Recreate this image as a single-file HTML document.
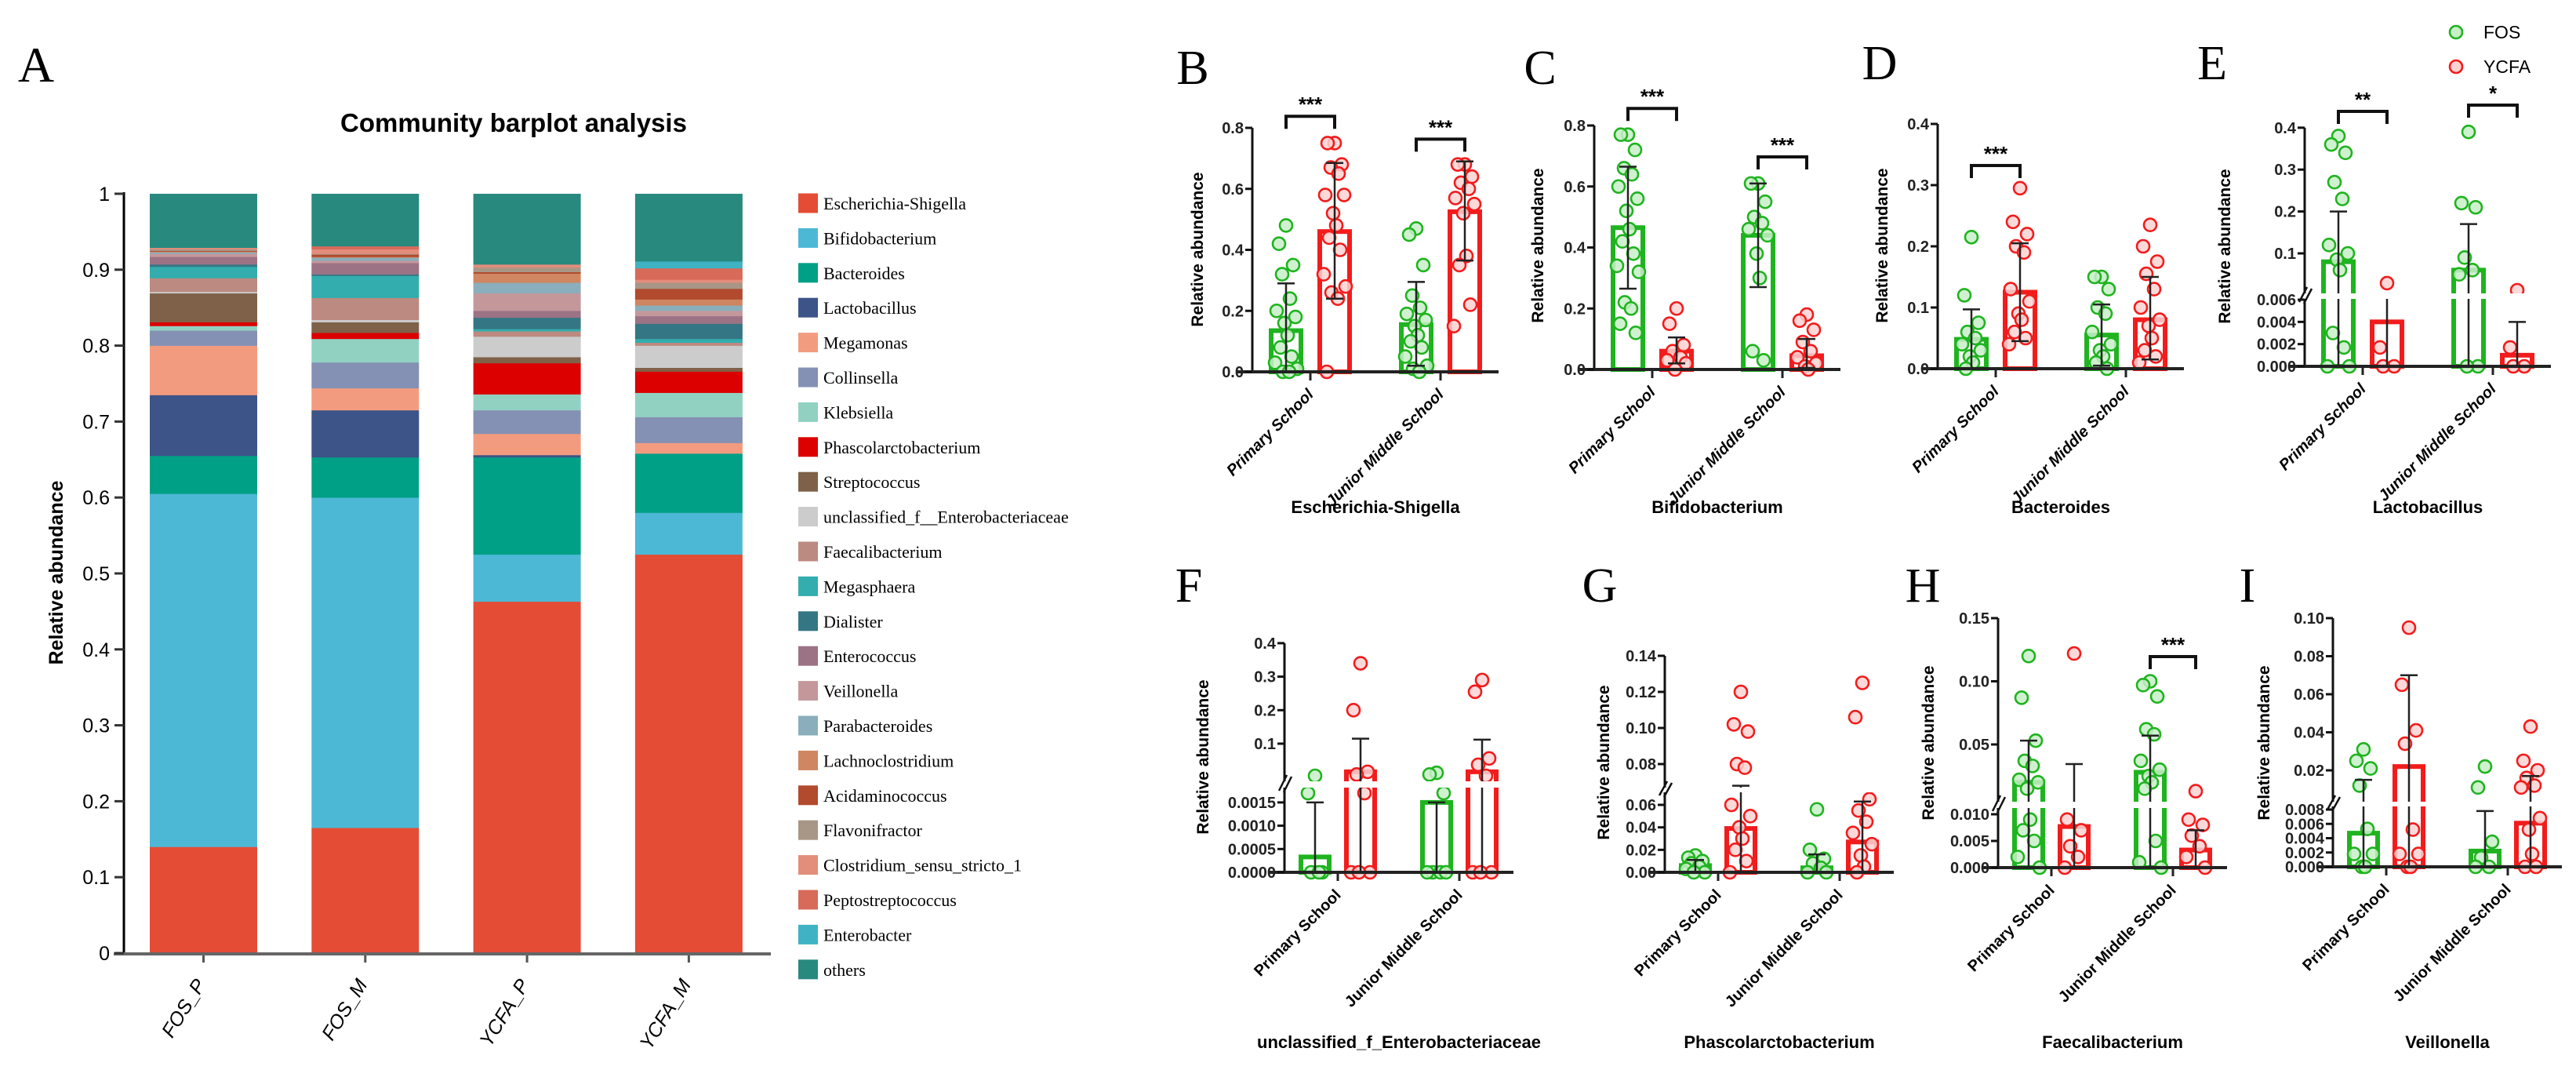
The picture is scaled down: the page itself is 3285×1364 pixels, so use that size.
<!DOCTYPE html>
<html><head><meta charset="utf-8"><style>
html,body{margin:0;padding:0;background:#fff;}
svg{display:block;}
text{font-family:"Liberation Sans",sans-serif;}
.serif{font-family:"Liberation Serif",serif;}
</style></head><body>
<svg id="fig" width="3285" height="1364" viewBox="0 0 3285 1364" xmlns="http://www.w3.org/2000/svg">
<rect x="0" y="0" width="3285" height="1364" fill="#fff"/>
</svg>
<script>
// ---------- Panel A data ----------
const A_GROUPS = ['FOS_P','FOS_M','YCFA_P','YCFA_M'];
const A_TAXA = ['Escherichia-Shigella','Bifidobacterium','Bacteroides','Lactobacillus','Megamonas','Collinsella','Klebsiella','Phascolarctobacterium','Streptococcus','unclassified_f__Enterobacteriaceae','Faecalibacterium','Megasphaera','Dialister','Enterococcus','Veillonella','Parabacteroides','Lachnoclostridium','Acidaminococcus','Flavonifractor','Clostridium_sensu_stricto_1','Peptostreptococcus','Enterobacter','others'];
const A_FOS_P  = [.14,.465,.05,.08,.065,.02,.006,.005,.038,.002,.018,.015,.003,.01,.004,.002,.001,.001,.002,.002,0,0,.071];
const A_FOS_M  = [.165,.435,.053,.062,.029,.034,.031,.008,.014,.003,.029,.029,.002,.015,.003,.004,.001,.003,.001,.006,.004,0,.069];
const A_YCFA_P = [.463,.062,.128,.003,.028,.031,.021,.041,.008,.027,.007,.003,.015,.009,.023,.014,.012,.002,.006,.004,0,0,.093];
const A_YCFA_M = [.525,.055,.078,0,.014,.034,.032,.028,.005,.029,.004,.005,.02,.01,.007,.007,.008,.014,.008,.004,.015,.009,.089];
const A_YTICKS = [0,.1,.2,.3,.4,.5,.6,.7,.8,.9,1];
const A_YTICK_LABELS = ['0','0.1','0.2','0.3','0.4','0.5','0.6','0.7','0.8','0.9','1'];
const A_COLORS = ['#e44c35','#4db8d5','#00a087','#3c5488','#f39b7f','#8491b4','#91d1c2','#dc0000','#7e6148','#cccccc','#bc8a80','#33adad','#357684','#9c7285','#c4979b','#8aaebb','#cf8661','#b24a2d','#a89687','#e38d7b','#d86a59','#3fb3c4','#28897f'];

// ---------- Small panels data ----------
const CATS = ['Primary School','Junior Middle School'];
const B_MEAN=[.135,.46,.155,.525], B_HI=[.29,.685,.295,.69], B_LO=[0,.24,.02,.365];
const B_PTS=[[.48,.42,.35,.32,.24,.2,.18,.16,.12,.08,.05,.03,.01,0,0],[.75,.75,.68,.67,.65,.58,.58,.52,.48,.44,.4,.32,.28,.26,.24,0],[.47,.45,.35,.25,.21,.19,.17,.15,.12,.1,.08,.05,.02,.01,0],[.68,.68,.64,.62,.6,.57,.55,.52,.38,.35,.22,.15]];
const B_SIG=[[0,.838,'***'],[1,.763,'***']];
const C_MEAN=[.465,.06,.44,.045], C_HI=[.665,.105,.61,.1], C_LO=[.265,.02,.27,.005];
const C_PTS=[[.77,.77,.72,.66,.64,.6,.56,.52,.46,.42,.38,.34,.32,.22,.2,.15,.12],[.2,.15,.08,.06,.04,.03,.02,0],[.61,.61,.55,.5,.48,.46,.44,.38,.3,.06,.03],[.18,.16,.13,.09,.06,.04,.02,.01,0]];
const C_SIG=[[0,.856,'***'],[1,.697,'***']];
const D_MEAN=[.048,.125,.055,.08], D_HI=[.097,.205,.105,.15], D_LO=[0,.045,.005,.015];
const D_PTS=[[.215,.12,.075,.06,.05,.04,.03,.02,.01,0],[.295,.24,.22,.2,.19,.13,.11,.09,.08,.06,.05,.04],[.15,.15,.13,.1,.09,.06,.04,.03,.02,.01,0],[.235,.2,.175,.155,.13,.1,.08,.07,.05,.03,.02,.01]];
const D_SIG=[[0,.332,'***']];
const E_MEAN=[.08,.004,.06,.001], E_HI=[.2,.0063,.17,.004], E_LO=[0,0,0,0];
const E_PTS=[[.38,.36,.34,.27,.23,.12,.1,.085,.06,.003,.0017,0,0],[.029,.0017,0,0],[.39,.22,.21,.09,.06,.05,0,0],[.012,.0017,0,0]];
const E_SIG=[[0,.439,'**'],[1,.454,'*']];
const F_MEAN=[.00033,.016,.0015,.016], F_HI=[.0015,.115,.0015,.112], F_LO=[0,0,0,0];
const F_PTS=[[.004,.0017,0,0,0],[.34,.2,.016,.008,.0017,0,0,0],[.013,.008,.0017,0,0,0,0],[.29,.255,.056,.037,.004,0,0,0]];
const F_SIG=[];
const G_MEAN=[.006,.039,.004,.027], G_HI=[.011,.068,.016,.063], G_LO=[0,0,0,0];
const G_PTS=[[.015,.013,.01,.008,.005,.003,0,0],[.12,.102,.098,.08,.078,.06,.05,.04,.03,.02,.01,0],[.056,.02,.012,.008,.004,0,0],[.125,.106,.065,.055,.045,.035,.025,.015,.005,0]];
const G_SIG=[];
const H_MEAN=[.02,.0077,.028,.0033], H_HI=[.053,.0345,.057,.007], H_LO=[0,0,0,0];
const H_PTS=[[.12,.087,.053,.037,.033,.022,.02,.015,.009,.007,.005,.002,0],[.122,.009,.007,.004,.002,0],[.1,.097,.088,.062,.058,.037,.03,.025,.02,.015,.005,.001,0],[.013,.009,.008,.006,.004,.002,0]];
const H_SIG=[[1,.1196,'***']];
const I_MEAN=[.0047,.022,.0022,.0061], I_HI=[.015,.07,.0078,.017], I_LO=[0,0,0,0];
const I_PTS=[[.031,.025,.021,.012,.0053,.0018,.0018,0,0],[.095,.065,.041,.034,.0052,.0018,.0018,0,0],[.022,.011,.0035,.0013,0,0],[.043,.025,.02,.016,.012,.011,.0068,.0052,.0018,0,0]];
const I_SIG=[];

const svg=document.getElementById('fig');
const NS='http://www.w3.org/2000/svg';
function el(tag,attrs,parent){const e=document.createElementNS(NS,tag);for(const k in attrs)e.setAttribute(k,attrs[k]);(parent||svg).appendChild(e);return e;}
function txt(str,attrs,parent){const t=el('text',attrs,parent);t.textContent=str;return t;}

// ================= Panel A =================
(function(){
  const g=el('g',{});
  
  
  const y0=1215, k=968, axX=158;
  const yA=v=>y0-v*k;
  const L=txt('A',{x:46,y:104,'font-size':64,'text-anchor':'middle',class:'serif'},g);
  
  
  const T=txt('Community barplot analysis',{x:655,y:168,'font-size':33,'font-weight':'bold','text-anchor':'middle'},g);
  
  
  const series=[A_FOS_P,A_FOS_M,A_YCFA_P,A_YCFA_M];
  series.forEach((vals,gi)=>{
    const x=191+gi*206.3; let cum=0;
    vals.forEach((v,ti)=>{
      if(v<=0)return;
      const r=el('rect',{x:x,y:yA(cum+v),width:137,height:v*k+0.3,fill:A_COLORS[ti]},g);
      
      
      cum+=v;
    });
    const tk=el('line',{x1:x+68.5,y1:y0,x2:x+68.5,y2:y0+12,stroke:'#555','stroke-width':3},g);
    
    
    const lb=txt(A_GROUPS[gi],{x:x+72,y:y0+40,'font-size':25,'font-style':'italic','text-anchor':'end',transform:`rotate(-58 ${x+72} ${y0+40})`},g);
    
    
  });
  const ya=el('line',{x1:axX,y1:yA(1)-2,x2:axX,y2:y0,stroke:'#000','stroke-width':3},g);
  
  
  const xa=el('line',{x1:145,y1:y0+1,x2:983,y2:y0+1,stroke:'#666','stroke-width':4},g);
  
  
  A_YTICKS.forEach((v,i)=>{
    const t=el('line',{x1:axX-12,y1:yA(v),x2:axX,y2:yA(v),stroke:'#333','stroke-width':3},g);
    
    
    const l=txt(A_YTICK_LABELS[i],{x:axX-18,y:yA(v)+9,'font-size':25,'text-anchor':'end'},g);
    
    
  });
  const yt=txt('Relative abundance',{x:80,y:730,'font-size':25,'font-weight':'bold','text-anchor':'middle',transform:'rotate(-90 80 730)'},g);
  
  
  A_TAXA.forEach((name,i)=>{
    const cy=259+i*44.4;
    const sw=el('rect',{x:1018,y:cy-12.5,width:25,height:25,fill:A_COLORS[i]},g);
    
    
    const lt=txt(name,{x:1050,y:cy+8,'font-size':22,class:'serif'},g);
    
    
  });
})();

// ================= Small panels =================
const GREEN='#1fb41f', RED='#f21c1c', GFILL='#c8efc8', RFILL='#fcd2d2';
const JIT=[0,-9,9,-5,5,-12,12,-2,2,-7,7,-14,14,-4,4,-10,10];
function drawPanel(c){
  const g=el('g',{});
  
  
  const yOf=v=>{ if(!c.up||v<=c.lmax) return c.y0-v*c.k; return c.up.y-(v-c.up.v)*c.up.k; };
  const top=c.row===0;
  const first=top?43:39, gGap=top?166:155, sGap=top?62:58, bw=top?38:36, axLen=top?314:292;
  const cx=(gi,si)=>c.ax+first+gi*gGap+si*sGap;
  c.mean.forEach((v,i)=>{
    const gi=Math.floor(i/2), si=i%2, col=si?RED:GREEN;
    const x=cx(gi,si), yv=yOf(v);
    const r=el('rect',{x:x-bw/2,y:yv,width:bw,height:Math.max(c.y0-yv,1),fill:'#fff',stroke:col,'stroke-width':6},g);
    
    
  });
  c.pts.forEach((arr,i)=>{
    const gi=Math.floor(i/2), si=i%2;
    arr.forEach((v,j)=>{
      const p=el('circle',{cx:cx(gi,si)+JIT[j%JIT.length],cy:yOf(v),r:8,fill:si?RFILL:GFILL,stroke:si?RED:GREEN,'stroke-width':2.6,'fill-opacity':0.85},g);
      
      
    });
  });
  c.hi.forEach((v,i)=>{
    const gi=Math.floor(i/2), si=i%2, x=cx(gi,si);
    const lo=c.lo[i];
    const e=el('path',{d:`M${x},${yOf(lo)}V${yOf(v)}M${x-11},${yOf(v)}H${x+11}`+(lo>0?`M${x-11},${yOf(lo)}H${x+11}`:''),stroke:'#222','stroke-width':2.5,fill:'none'},g);
    
    
  });
  if(c.up){
    const gp=el('rect',{x:c.ax-14,y:c.gap[0],width:axLen+14,height:c.gap[1]-c.gap[0],fill:'#fff'},g);
    
    
  }
  const yTop=yOf(c.ticks[c.ticks.length-1]);
  const ya=el('path',{d:c.up?`M${c.ax},${yTop}V${c.gap[0]}M${c.ax},${c.gap[1]}V${c.y0}`:`M${c.ax},${yTop}V${c.y0}`,stroke:'#111','stroke-width':3,fill:'none'},g);
  
  
  if(c.up){
    const bm=el('path',{d:`M${c.ax-7},${c.gap[1]+4}L${c.ax+3},${c.gap[0]-8}M${c.ax-1},${c.gap[1]+6}L${c.ax+9},${c.gap[0]-6}`,stroke:'#111','stroke-width':2.5,fill:'none'},g);
    
    
  }
  const xa=el('line',{x1:c.ax-20,y1:c.y0,x2:c.ax+axLen,y2:c.y0,stroke:'#222','stroke-width':4},g);
  
  
  c.ticks.forEach((v,i)=>{
    const y=yOf(v);
    const t=el('line',{x1:c.ax-9,y1:y,x2:c.ax,y2:y,stroke:'#111','stroke-width':3},g);
    
    
    const l=txt(c.labels[i],{x:c.ax-11,y:y+7,'font-size':20,'font-weight':'bold','text-anchor':'end',fill:'#222'},g);
    
    
  });
  [0,1].forEach(gi=>{
    const tx=(cx(gi,0)+cx(gi,1))/2;
    const t=el('line',{x1:tx,y1:c.y0,x2:tx,y2:c.y0+11,stroke:'#222','stroke-width':3},g);
    
    
    const lx=tx+5, ly=c.y0+30;
    const l=txt(CATS[gi],{x:lx,y:ly,'font-size':20,'font-weight':'bold','font-style':top?'italic':'normal','text-anchor':'end',transform:`rotate(-45 ${lx} ${ly})`},g);
    
    
  });
  c.sig.forEach(s=>{
    const gi=s[0], y=yOf(s[1]), x1=cx(gi,0), x2=cx(gi,1);
    const b=el('path',{d:`M${x1},${y+16}V${y}H${x2}V${y+16}`,stroke:'#111','stroke-width':4,fill:'none'},g);
    
    
    const st=txt(s[2],{x:(x1+x2)/2,y:y-6,'font-size':26,'font-weight':'bold','text-anchor':'middle'},g);
    
    
  });
  const yt=txt('Relative abundance',{x:c.yt[0],y:c.yt[1],'font-size':21,'font-weight':'bold','text-anchor':'middle',transform:`rotate(-90 ${c.yt[0]} ${c.yt[1]})`},g);
  
  
  const tt=txt(c.title,{x:c.ax+axLen/2,y:top?654:1336,'font-size':22,'font-weight':'bold','text-anchor':'middle'},g);
  
  
  const lt=txt(c.letter,{x:c.L[0],y:c.L[1]+22,'font-size':62,'text-anchor':'middle',class:'serif'},g);
  
  
}
drawPanel({id:'b',letter:'B',L:[1521,85],row:0,title:'Escherichia-Shigella',ax:1597,y0:474,k:388.75,ticks:[0,.2,.4,.6,.8],labels:['0.0','0.2','0.4','0.6','0.8'],yt:[1534,318],mean:B_MEAN,hi:B_HI,lo:B_LO,pts:B_PTS,sig:B_SIG});
drawPanel({id:'c',letter:'C',L:[1964,85],row:0,title:'Bifidobacterium',ax:2033,y0:471,k:388.75,ticks:[0,.2,.4,.6,.8],labels:['0.0','0.2','0.4','0.6','0.8'],yt:[1968,313],mean:C_MEAN,hi:C_HI,lo:C_LO,pts:C_PTS,sig:C_SIG});
drawPanel({id:'d',letter:'D',L:[2397,79],row:0,title:'Bacteroides',ax:2471,y0:470,k:780,ticks:[0,.1,.2,.3,.4],labels:['0.0','0.1','0.2','0.3','0.4'],yt:[2407,313],mean:D_MEAN,hi:D_HI,lo:D_LO,pts:D_PTS,sig:D_SIG});
drawPanel({id:'e',letter:'E',L:[2821,79],row:0,title:'Lactobacillus',ax:2939,y0:467,k:14167,lmax:.0065,up:{v:.1,y:323,k:534},gap:[374,381],ticks:[0,.002,.004,.006,.1,.2,.3,.4],labels:['0.000','0.002','0.004','0.006','0.1','0.2','0.3','0.4'],yt:[2844,314],mean:E_MEAN,hi:E_HI,lo:E_LO,pts:E_PTS,sig:E_SIG});
drawPanel({id:'f',letter:'F',L:[1516,745],row:1,title:'unclassified_f_Enterobacteriaceae',ax:1638,y0:1112,k:59400,lmax:.0018,up:{v:.1,y:948,k:427},gap:[996,1004],ticks:[0,.0005,.001,.0015,.1,.2,.3,.4],labels:['0.0000','0.0005','0.0010','0.0015','0.1','0.2','0.3','0.4'],yt:[1541,965],mean:F_MEAN,hi:F_HI,lo:F_LO,pts:F_PTS,sig:F_SIG});
drawPanel({id:'g',letter:'G',L:[2040,745],row:1,title:'Phascolarctobacterium',ax:2123,y0:1112,k:1433,lmax:.066,up:{v:.08,y:974,k:2300},gap:[1004,1010],ticks:[0,.02,.04,.06,.08,.1,.12,.14],labels:['0.00','0.02','0.04','0.06','0.08','0.10','0.12','0.14'],yt:[2052,972],mean:G_MEAN,hi:G_HI,lo:G_LO,pts:G_PTS,sig:G_SIG});
drawPanel({id:'h',letter:'H',L:[2452,745],row:1,title:'Faecalibacterium',ax:2548,y0:1106,k:6800,lmax:.011,up:{v:.05,y:949,k:1610},gap:[1022,1030],ticks:[0,.005,.01,.05,.1,.15],labels:['0.000','0.005','0.010','0.05','0.10','0.15'],yt:[2466,947],mean:H_MEAN,hi:H_HI,lo:H_LO,pts:H_PTS,sig:H_SIG});
drawPanel({id:'i',letter:'I',L:[2866,745],row:1,title:'Veillonella',ax:2975,y0:1105,k:9125,lmax:.0085,up:{v:.02,y:982,k:2425},gap:[1022,1028],ticks:[0,.002,.004,.006,.008,.02,.04,.06,.08,.1],labels:['0.000','0.002','0.004','0.006','0.008','0.02','0.04','0.06','0.08','0.10'],yt:[2894,947],mean:I_MEAN,hi:I_HI,lo:I_LO,pts:I_PTS,sig:I_SIG});

(function(){
  const g=el('g',{});
  
  
  [['FOS',GREEN,GFILL,41],['YCFA',RED,RFILL,85]].forEach(d=>{
    const c=el('circle',{cx:3132,cy:d[3],r:8,fill:d[2],stroke:d[1],'stroke-width':2.6},g);
    
    
    const t=txt(d[0],{x:3167,y:d[3]+8,'font-size':23},g);
    
    
  });
})();
</script>
</body></html>
